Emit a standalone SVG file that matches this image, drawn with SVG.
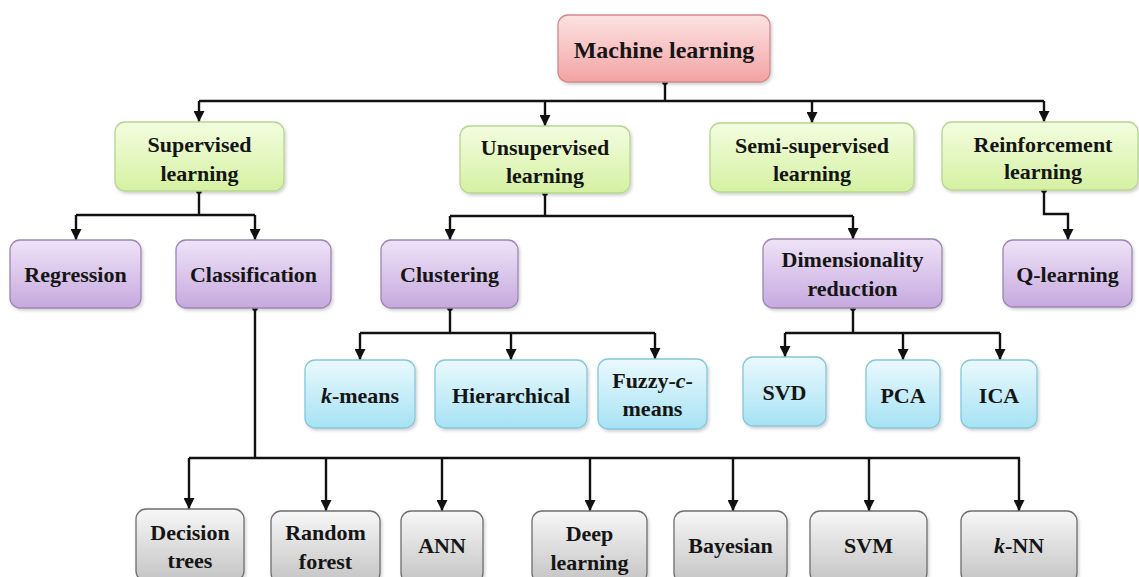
<svg xmlns="http://www.w3.org/2000/svg" width="1139" height="577" viewBox="0 0 1139 577">
<style>
.box{stroke-width:1.3}
.red{fill:url(#gRed);stroke:#cf8a8a}
.green{fill:url(#gGreen);stroke:#b6d690}
.purple{fill:url(#gPurple);stroke:#9c86b3}
.cyan{fill:url(#gCyan);stroke:#86c6db}
.gray{fill:url(#gGray);stroke:#6e6e6e}
.it{font-style:italic}
.conn{fill:none;stroke:#111;stroke-width:2.4}
.arr{marker-end:url(#ah)}
.dot{fill:#111}
</style>
<defs>
<linearGradient id="gRed" x1="0" y1="0" x2="0" y2="1"><stop offset="0" stop-color="#fde3e3"/><stop offset="1" stop-color="#f3a3a3"/></linearGradient>
<linearGradient id="gGreen" x1="0" y1="0" x2="0" y2="1"><stop offset="0" stop-color="#f3fde0"/><stop offset="1" stop-color="#d5f1a2"/></linearGradient>
<linearGradient id="gPurple" x1="0" y1="0" x2="0" y2="1"><stop offset="0" stop-color="#efe3f7"/><stop offset="1" stop-color="#c6a9df"/></linearGradient>
<linearGradient id="gCyan" x1="0" y1="0" x2="0" y2="1"><stop offset="0" stop-color="#eaf9fd"/><stop offset="1" stop-color="#a6e2f4"/></linearGradient>
<linearGradient id="gGray" x1="0" y1="0" x2="0" y2="1"><stop offset="0" stop-color="#f7f7f7"/><stop offset="1" stop-color="#c4c4c4"/></linearGradient>
<filter id="sh" x="-10%" y="-10%" width="130%" height="130%"><feDropShadow dx="1.5" dy="2" stdDeviation="1.5" flood-color="#000" flood-opacity="0.18"/></filter>
<marker id="ah" markerUnits="userSpaceOnUse" markerWidth="11" markerHeight="11" refX="11" refY="5.5" orient="auto"><path d="M0,0 L11,5.5 L0,11 z" fill="#111"/></marker>
</defs>

<g id="connectors">
<path class="conn" d="M665,82 V101 M199,101 H1044"/>
<path class="conn arr" d="M199,101 V122"/>
<path class="conn arr" d="M545,101 V126"/>
<path class="conn arr" d="M812,101 V123"/>
<path class="conn arr" d="M1044,101 V122"/>
<circle class="dot" cx="665" cy="82" r="3"/>

<path class="conn" d="M199,191 V215 M76,215 H255"/>
<path class="conn arr" d="M76,215 V240"/>
<path class="conn arr" d="M255,215 V240"/>
<circle class="dot" cx="199" cy="191" r="3"/>

<path class="conn" d="M545,193 V216 M450,216 H853"/>
<path class="conn arr" d="M450,216 V240"/>
<path class="conn arr" d="M853,216 V239"/>
<circle class="dot" cx="545" cy="193" r="3"/>

<path class="conn arr" d="M1044,190 V214 H1068 V240"/>
<circle class="dot" cx="1044" cy="190" r="3"/>

<path class="conn" d="M450,308 V333 M360,333 H655"/>
<path class="conn arr" d="M360,333 V360"/>
<path class="conn arr" d="M511,333 V360"/>
<path class="conn arr" d="M655,333 V359"/>
<circle class="dot" cx="450" cy="308" r="3"/>

<path class="conn" d="M853,308 V333 M785,333 H1000"/>
<path class="conn arr" d="M785,333 V357"/>
<path class="conn arr" d="M903,333 V360"/>
<path class="conn arr" d="M1000,333 V360"/>
<circle class="dot" cx="853" cy="308" r="3"/>

<path class="conn" d="M255,308 V458 M189,458 H1020"/>
<path class="conn arr" d="M189,458 V509"/>
<path class="conn arr" d="M326,458 V511"/>
<path class="conn arr" d="M442,458 V511"/>
<path class="conn arr" d="M590,458 V511"/>
<path class="conn arr" d="M733,458 V511"/>
<path class="conn arr" d="M869,458 V511"/>
<path class="conn arr" d="M1019,458 V511"/>
<circle class="dot" cx="255" cy="308" r="3"/>
</g>

<g id="nodes" font-family="Liberation Serif" font-weight="bold" font-size="22" fill="#151515" text-anchor="middle">
<g id="machine-learning"><rect class="box red" filter="url(#sh)" x="558" y="15" width="212" height="67" rx="10"/><text x="664" y="58" font-size="24">Machine learning</text></g>

<g id="supervised"><rect class="box green" filter="url(#sh)" x="115" y="122" width="169" height="69" rx="10"/><text x="199.5" y="152">Supervised</text><text x="199.5" y="181">learning</text></g>
<g id="unsupervised"><rect class="box green" filter="url(#sh)" x="460" y="126" width="170" height="67" rx="10"/><text x="545" y="155">Unsupervised</text><text x="545" y="183">learning</text></g>
<g id="semi-supervised"><rect class="box green" filter="url(#sh)" x="710" y="123" width="204" height="69" rx="10"/><text x="812" y="153">Semi-supervised</text><text x="812" y="181">learning</text></g>
<g id="reinforcement"><rect class="box green" filter="url(#sh)" x="942" y="122" width="196" height="68" rx="10"/><text x="1043" y="152">Reinforcement</text><text x="1043" y="179">learning</text></g>

<g id="regression"><rect class="box purple" filter="url(#sh)" x="10" y="240" width="131" height="68" rx="10"/><text x="75.5" y="282">Regression</text></g>
<g id="classification"><rect class="box purple" filter="url(#sh)" x="176" y="240" width="155" height="68" rx="10"/><text x="253.5" y="282">Classification</text></g>
<g id="clustering"><rect class="box purple" filter="url(#sh)" x="381" y="240" width="137" height="68" rx="10"/><text x="449.5" y="282">Clustering</text></g>
<g id="dimensionality"><rect class="box purple" filter="url(#sh)" x="763" y="239" width="179" height="69" rx="10"/><text x="852.5" y="267">Dimensionality</text><text x="852.5" y="296">reduction</text></g>
<g id="q-learning"><rect class="box purple" filter="url(#sh)" x="1003" y="240" width="129" height="67" rx="10"/><text x="1067.5" y="282">Q-learning</text></g>

<g id="k-means"><rect class="box cyan" filter="url(#sh)" x="305" y="360" width="110" height="68" rx="10"/><text x="360" y="403"><tspan class="it">k</tspan>-means</text></g>
<g id="hierarchical"><rect class="box cyan" filter="url(#sh)" x="435" y="360" width="152" height="68" rx="10"/><text x="511" y="403">Hierarchical</text></g>
<g id="fuzzy-c-means"><rect class="box cyan" filter="url(#sh)" x="598" y="359" width="109" height="70" rx="10"/><text x="652.5" y="388">Fuzzy-<tspan class="it">c</tspan>-</text><text x="652.5" y="416">means</text></g>
<g id="svd"><rect class="box cyan" filter="url(#sh)" x="743" y="357" width="83" height="69" rx="10"/><text x="784.5" y="400">SVD</text></g>
<g id="pca"><rect class="box cyan" filter="url(#sh)" x="866" y="360" width="74" height="68" rx="10"/><text x="903" y="403">PCA</text></g>
<g id="ica"><rect class="box cyan" filter="url(#sh)" x="961" y="360" width="76" height="68" rx="10"/><text x="999" y="403">ICA</text></g>

<g id="decision-trees"><rect class="box gray" filter="url(#sh)" x="136" y="509" width="108" height="72" rx="10"/><text x="190" y="540">Decision</text><text x="190" y="568">trees</text></g>
<g id="random-forest"><rect class="box gray" filter="url(#sh)" x="271" y="511" width="109" height="72" rx="10"/><text x="325.5" y="540">Random</text><text x="325.5" y="569">forest</text></g>
<g id="ann"><rect class="box gray" filter="url(#sh)" x="401" y="511" width="82" height="72" rx="10"/><text x="442" y="553">ANN</text></g>
<g id="deep-learning"><rect class="box gray" filter="url(#sh)" x="532" y="511" width="115" height="72" rx="10"/><text x="589.5" y="541">Deep</text><text x="589.5" y="570">learning</text></g>
<g id="bayesian"><rect class="box gray" filter="url(#sh)" x="674" y="511" width="113" height="72" rx="10"/><text x="730.5" y="553">Bayesian</text></g>
<g id="svm"><rect class="box gray" filter="url(#sh)" x="810" y="511" width="117" height="72" rx="10"/><text x="868.5" y="553">SVM</text></g>
<g id="k-nn"><rect class="box gray" filter="url(#sh)" x="961" y="511" width="116" height="72" rx="10"/><text x="1019" y="553"><tspan class="it">k</tspan>-NN</text></g>
</g>
</svg>
